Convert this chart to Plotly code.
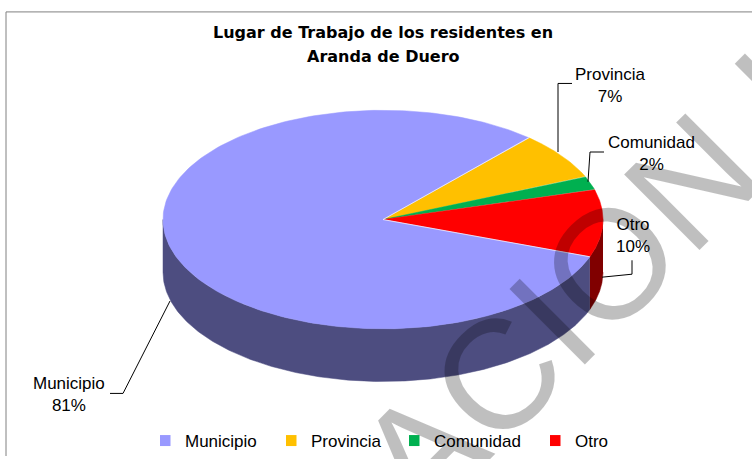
import numpy as np
import plotly.graph_objects as go

categories = ["Municipio", "Provincia", "Comunidad", "Otro"]
values = [81, 7, 2, 10]
colors = ["#9999FF", "#FFC000", "#00B050", "#FF0000"]
wall_colors = ["#4D4D80", "#806000", "#005828", "#800000"]
title_lines = ["Lugar de Trabajo de los residentes en", "Aranda de Duero"]
watermark = "ACION I"

W, H = 752, 459
CX, CY, RX, RY, DEPTH = 383, 221, 220, 110, 53
START = 48.5  # ellipse parameter where Provincia begins, sweeping clockwise
FONT = "Liberation Sans"

# slice order on the drawing: Provincia, Comunidad, Otro, Municipio
order = [1, 2, 3, 0]
total = sum(values)
spans = {}
a = START
for i in order:
    b = a - values[i] / total * 360
    spans[i] = (a, b)
    a = b

def arc(a0, a1, dy=0):
    t = np.radians(np.linspace(a0, a1, 240))
    return CX + RX * np.cos(t), CY - RY * np.sin(t) + dy

fig = go.Figure()

# side walls (only the front half, t in [-180, 0], is visible)
for i in order:
    a0, a1 = spans[i]
    lo, hi = max(a1, -180), min(a0, 0)
    if lo < hi:
        x1, y1 = arc(hi, lo)
        x2, y2 = arc(lo, hi, DEPTH)
        fig.add_trace(go.Scatter(x=np.r_[x1, x2], y=np.r_[y1, y2], mode="lines", fill="toself",
                                 fillcolor=wall_colors[i], line=dict(color=wall_colors[i], width=0.5),
                                 hoverinfo="skip", showlegend=False))

# top faces
for i in order:
    a0, a1 = spans[i]
    x, y = arc(a0, a1)
    fig.add_trace(go.Scatter(x=np.r_[CX, x, CX], y=np.r_[CY, y, CY], mode="lines", fill="toself",
                             fillcolor=colors[i], line=dict(color=colors[i], width=0.5),
                             name=categories[i], hoverinfo="skip", showlegend=False))

# thin white separators around Municipio
for ang in spans[0]:
    x, y = arc(ang, ang)
    fig.add_trace(go.Scatter(x=[CX, x[0]], y=[CY, y[0]], mode="lines", line=dict(color="white", width=0.7),
                             hoverinfo="skip", showlegend=False))

# leader lines
leaders = [
    ([558, 558, 572], [153, 84, 84]),
    ([588, 590, 604], [183, 153, 153]),
    ([602, 632, 632], [279, 276, 262]),
    ([170, 123, 110], [303, 396, 396]),
]
for lx, ly in leaders:
    fig.add_trace(go.Scatter(x=lx, y=ly, mode="lines", line=dict(color="black", width=1),
                             hoverinfo="skip", showlegend=False))

# legend entries, one small legend per category
legend_x = [160, 286, 409, 550]
legends = {}
for i, c in enumerate(categories):
    key = "legend" if i == 0 else f"legend{i + 1}"
    fig.add_trace(go.Scatter(x=[None], y=[None], mode="markers", name=c, legend=key,
                             marker=dict(symbol="square", size=11, color=colors[i])))
    legends[key] = dict(x=legend_x[i] / W, xanchor="left", y=1 - 444 / H, yanchor="middle", indentation=-15,
                        font=dict(family=FONT, size=17, color="black"), bgcolor="rgba(0,0,0,0)")

annotations = []
# slice labels
label_pos = {0: (69, 397), 1: (610, 86), 2: (651, 155), 3: (633, 237)}
for i, (lx, ly) in label_pos.items():
    annotations.append(dict(x=lx, y=ly, xref="x", yref="y", showarrow=False,
                            text=f"{categories[i]}<br>{values[i]}%", align="center",
                            font=dict(family=FONT, size=17, color="black")))

for line, ty in zip(title_lines, [33, 57]):
    annotations.append(dict(x=383, y=ty, xref="x", yref="y", showarrow=False, text=f"<b>{line}</b>",
                            font=dict(family="DejaVu Sans", size=16, color="black")))

# diagonal watermark
annotations.append(dict(x=588, y=287, xref="x", yref="y", showarrow=False,
                        text=watermark, textangle=-45,
                        font=dict(family=FONT, size=155, color="rgba(0,0,0,0.25)")))

fig.update_layout(
    width=W, height=H, margin=dict(l=0, r=0, t=0, b=0),
    paper_bgcolor="white", plot_bgcolor="white",
    xaxis=dict(range=[0, W], visible=False, fixedrange=True),
    yaxis=dict(range=[H, 0], visible=False, fixedrange=True),
    annotations=annotations,
    shapes=[dict(type="line", x0=6, x1=6, y0=12, y1=H, xref="x", yref="y", line=dict(color="#808080", width=1)),
            dict(type="line", x0=6, x1=W, y0=12, y1=12, xref="x", yref="y", line=dict(color="#808080", width=1))],
    showlegend=True,
    **legends,
)
fig.write_html("out.html", config={"displayModeBar": False},
               post_script="document.body.style.margin='0';document.body.style.overflow='hidden';")
